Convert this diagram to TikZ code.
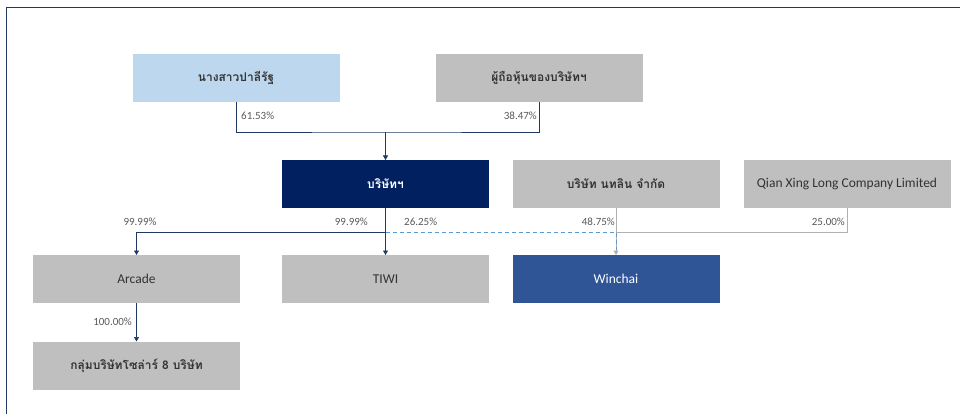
\documentclass[tikz,border=0pt]{standalone}
\usepackage{fontspec}
\setmainfont{Carlito}
\newfontfamily\thaifont[Script=Thai]{Loma}
\usetikzlibrary{arrows.meta}
\definecolor{navy}{HTML}{002060}
\definecolor{winblue}{HTML}{2F5597}
\definecolor{lightblue}{HTML}{BDD7EE}
\definecolor{boxgray}{HTML}{BFBFBF}
\definecolor{boxtext}{HTML}{333333}
\definecolor{pcttext}{HTML}{595959}
\definecolor{linknavy}{HTML}{203864}
\definecolor{linkgray}{HTML}{B0B0B0}
\definecolor{dashblue}{HTML}{5B9BD5}
\begin{document}
\begin{tikzpicture}[x=1pt,y=-1pt,
  box/.style = {rectangle,minimum width=207pt,minimum height=48pt,inner sep=0pt,outer sep=0pt,text=boxtext,font=\fontsize{13.5}{16}\selectfont},
  th/.style = {font=\thaifont\bfseries\fontsize{12}{14}\selectfont},
  pct/.style = {inner sep=0pt,text=pcttext,font=\fontsize{11}{13}\selectfont},
  link/.style = {draw=linknavy,line width=0.7pt},
  graylink/.style = {draw=linkgray,line width=0.7pt},
  dashlink/.style = {draw=dashblue,line width=0.8pt,dash pattern=on 4pt off 3pt},
  tip/.style = {-{Triangle[width=5pt,length=4.5pt]}}]
\useasboundingbox (0,0) rectangle (960,414);
\draw[linknavy,line width=1.6pt] (6.5,414) -- (6.5,7.5) -- (960,7.5);
\node[box,th,fill=lightblue] (ps) at (236,78) {นางสาวปาลีรัฐ};
\node[box,th,fill=boxgray] (holders) at (539,78) {ผู้ถือหุ้นของบริษัทฯ};
\node[box,th,fill=navy,text=white] (company) at (385.5,184) {บริษัทฯ};
\node[box,th,fill=boxgray] (natalin) at (616,184) {บริษัท นทลิน จำกัด};
\node[box,fill=boxgray] (qianxing) at (847,184) {Qian Xing Long Company Limited};
\node[box,fill=boxgray] (arcade) at (136.5,279) {Arcade};
\node[box,fill=boxgray] (tiwi) at (385.5,279) {TIWI};
\node[box,fill=winblue,text=white] (winchai) at (616,279) {Winchai};
\node[box,th,fill=boxgray] (solar) at (136.5,365.5) {กลุ่มบริษัทโซล่าร์ 8 บริษัท};
\coordinate (top) at (385.5,132);
\coordinate (mid) at (385.5,232);
\coordinate (right) at (616,232);
\draw[link] (ps.south) |- (top) -| (holders.south);
\draw[link,tip] (top) -- (company.north);
\draw[link] (company.south) -- (mid);
\draw[link,tip] (mid) -| (arcade.north);
\draw[link,tip] (mid) -- (tiwi.north);
\draw[graylink,tip] (natalin.south) -- (winchai.north);
\draw[graylink] (qianxing.south) |- (right);
\draw[dashlink,shorten >=5pt] (mid) -- (right) -- (winchai.north);
\draw[link,tip] (arcade.south) -- (solar.north);
\node[pct,anchor=west] (p61) at (241,116) {61.53\%};
\node[pct,anchor=east] (p38) at (537,116) {38.47\%};
\node[pct] (parc) at (140,222) {99.99\%};
\node[pct,anchor=east] (ptiwi) at (368,222) {99.99\%};
\node[pct,anchor=west] (pwin) at (404,222) {26.25\%};
\node[pct,anchor=east] (pnat) at (615,222) {48.75\%};
\node[pct,anchor=east] (pqxl) at (845,222) {25.00\%};
\node[pct,anchor=east] (psolar) at (132,322) {100.00\%};
\end{tikzpicture}
\end{document}
